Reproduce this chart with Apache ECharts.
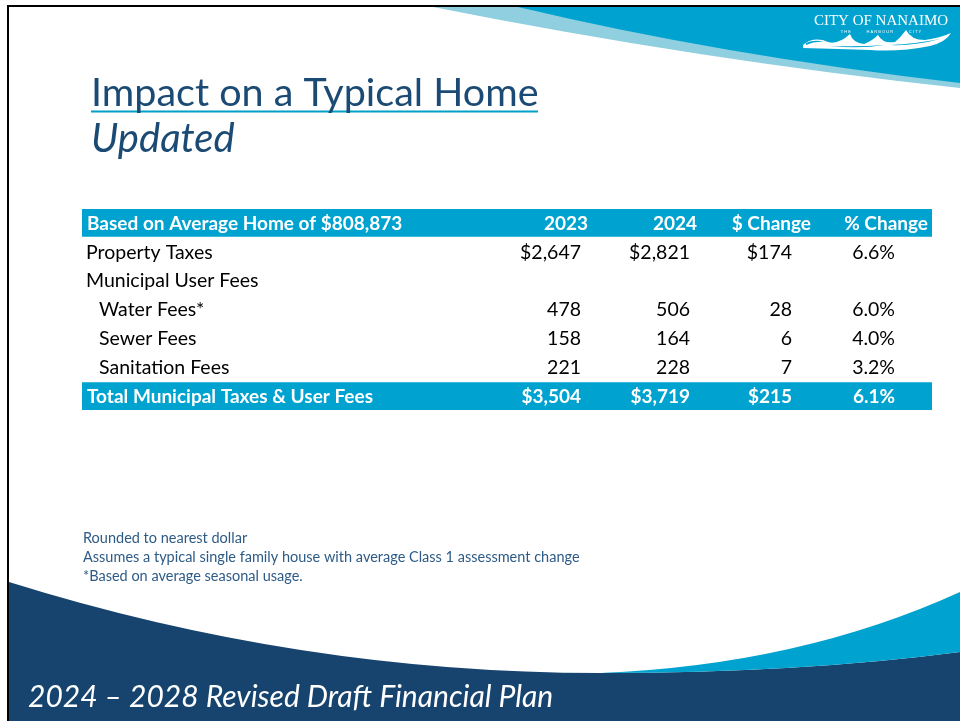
<!DOCTYPE html>
<html>
<head>
<meta charset="utf-8">
<script src="https://cdn.jsdelivr.net/npm/echarts@6/dist/echarts.min.js"></script>
<style>
  html, body { margin: 0; padding: 0; background: #fff; }
  #chart { width: 960px; height: 721px; }
</style>
</head>
<body>
<div id="chart"></div>
<script>
// table content
const headerLabel = 'Based on Average Home of $808,873';
const columnHeaders = ['2023', '2024', '$ Change', '% Change'];
const rowLabels = ['Property Taxes', 'Municipal User Fees', 'Water Fees*', 'Sewer Fees', 'Sanitation Fees'];
const values2023 = [2647, null, 478, 158, 221];
const values2024 = [2821, null, 506, 164, 228];
const changeDollar = [174, null, 28, 6, 7];
const changePct = [6.6, null, 6.0, 4.0, 3.2];
const totalLabel = 'Total Municipal Taxes & User Fees';
const totalValues = [3504, 3719, 215, 6.1];

const titleText = 'Impact on a Typical Home';
const subtitleText = 'Updated';
const footnotes = [
  'Rounded to nearest dollar',
  'Assumes a typical single family house with average Class 1 assessment change',
  '*Based on average seasonal usage.'
];
const footerText = '2024 \u2013 2028 Revised Draft Financial Plan';

// formatting rules
const dollarRows = ['Property Taxes'];
const indentRows = ['Water Fees*', 'Sewer Fees', 'Sanitation Fees'];

const money = (v, sign) => v == null ? '' : (sign ? '$' : '') + v.toLocaleString('en-US');
const pct = (v) => v == null ? '' : v.toFixed(1) + '%';

// layout
const FONT = 'Lato, "Open Sans", sans-serif';
const headRight = [588, 697, 811, 928];
const bodyRight = [581, 690, 792, 895];
const cyan = '#00a3cf';
const navy = '#17446f';
const titleBlue = '#1b4a75';

const yCats = [headerLabel].concat(rowLabels, [totalLabel]);

const chart = echarts.init(document.getElementById('chart'));

const renderRow = (params, api) => {
  const row = api.value(0);
  const y = api.coord([0, row])[1];
  const h = api.size([0, 1])[1];
  const children = [];
  const isHead = row === 0;
  const isTotal = row === yCats.length - 1;
  const txt = (x, s, align, bold, color) => ({
    type: 'text',
    style: {
      x: api.coord([x, row])[0], y: y, text: s, align: align, verticalAlign: 'middle',
      font: bold ? 'bold 19px ' + FONT : '19.5px ' + FONT, fill: color
    }
  });
  if (isHead || isTotal) {
    const x0 = api.coord([82, row])[0];
    const x1 = api.coord([932, row])[0];
    children.push({
      type: 'rect',
      shape: { x: x0, y: y - h / 2, width: x1 - x0, height: h - 1 },
      style: { fill: cyan }
    });
  }
  if (isHead) {
    children.push(txt(87, headerLabel, 'left', true, '#fff'));
    columnHeaders.forEach((c, i) => children.push(txt(headRight[i], c, 'right', true, '#fff')));
  } else if (isTotal) {
    children.push(txt(87, totalLabel, 'left', true, '#fff'));
    children.push(txt(bodyRight[0], money(totalValues[0], true), 'right', true, '#fff'));
    children.push(txt(bodyRight[1], money(totalValues[1], true), 'right', true, '#fff'));
    children.push(txt(bodyRight[2], money(totalValues[2], true), 'right', true, '#fff'));
    children.push(txt(bodyRight[3], pct(totalValues[3]), 'right', true, '#fff'));
  } else {
    const i = row - 1;
    const label = rowLabels[i];
    const sign = dollarRows.includes(label);
    children.push(txt(indentRows.includes(label) ? 99 : 86, label, 'left', false, '#000'));
    children.push(txt(bodyRight[0], money(values2023[i], sign), 'right', false, '#000'));
    children.push(txt(bodyRight[1], money(values2024[i], sign), 'right', false, '#000'));
    children.push(txt(bodyRight[2], money(changeDollar[i], sign), 'right', false, '#000'));
    children.push(txt(bodyRight[3], pct(changePct[i]), 'right', false, '#000'));
  }
  return { type: 'group', children: children };
};

// slide background shapes
const fillPath = (d, color) => ({ type: 'path', shape: { pathData: d }, style: { fill: color } });
const renderDecor = () => ({
  type: 'group',
  children: [
    fillPath('M433 7 Q700 60 960 88 L960 7 Z', '#8fcfe0'),
    fillPath('M518 7 Q720 55 960 83 L960 7 Z', cyan),
    // logo waves
    fillPath('M803 45 Q814 36 828 42 Q838 45 850 34 Q853 43 864 44 Q872 41 878 35 Q883 44 895 42 ' +
      'Q901 37 906 30 Q911 40 925 40 Q940 38 951 33 Q946 42 930 46 Q900 52 870 50 Q840 49 803 48 Z', '#fff'),
    fillPath('M806 43 Q815 39 824 42 Q815 41 806 45 Z', cyan),
    fillPath('M830 46 Q860 49 885 45 Q860 47 830 46 Z', cyan),
    fillPath('M890 45 Q915 46 940 39 Q915 44 890 45 Z', cyan),
    fillPath('M9 582 Q300 673 600 673 Q800 673 960 652 L960 721 L9 721 Z', navy),
    fillPath('M600 673 Q800 665 960 592 L960 652 Q800 673 600 673 Z', cyan),
    { type: 'rect', shape: { x: 7, y: 5, width: 953, height: 2 }, style: { fill: '#000' } },
    { type: 'rect', shape: { x: 7, y: 5, width: 2, height: 716 }, style: { fill: '#000' } },
    { type: 'rect', shape: { x: 91, y: 110.5, width: 447, height: 2 }, style: { fill: '#00a0c8' } }
  ]
});

const option = {
  backgroundColor: '#fff',
  animation: false,
  grid: { left: 0, right: 0, top: 209, bottom: 310 },
  xAxis: { type: 'value', min: 0, max: 960, show: false },
  yAxis: { type: 'category', data: yCats, inverse: true, show: false },
  series: [
    {
      type: 'custom',
      coordinateSystem: 'none',
      renderItem: renderDecor,
      data: [[0]],
      silent: true,
      z: 1
    },
    {
      type: 'custom',
      renderItem: renderRow,
      data: yCats.map((c, i) => [i]),
      encode: { y: 0 },
      silent: true,
      z: 2
    }
  ],
  graphic: [
    { type: 'text', z: 10, style: { x: 881, y: 21, text: 'CITY OF NANAIMO', align: 'center', verticalAlign: 'middle',
      font: '15px "Liberation Serif", serif', fill: '#fff' } },
    { type: 'text', z: 10, style: { x: 881, y: 31.5, text: 'T H E              H A R B O U R              C I T Y', align: 'center', verticalAlign: 'middle',
      font: '4px sans-serif', fill: '#fff' } },
    { type: 'text', z: 10, style: { x: 91, y: 93, text: titleText, verticalAlign: 'middle', font: '39.5px ' + FONT, fill: titleBlue } },
    { type: 'text', z: 10, style: { x: 91, y: 139, text: subtitleText, verticalAlign: 'middle', font: 'italic 40px ' + FONT, fill: titleBlue } },
    { type: 'text', z: 10, style: { x: 83, y: 538, text: footnotes[0], verticalAlign: 'middle', font: '14.5px ' + FONT, fill: '#2d5b87' } },
    { type: 'text', z: 10, style: { x: 83, y: 557, text: footnotes[1], verticalAlign: 'middle', font: '14.5px ' + FONT, fill: '#2d5b87' } },
    { type: 'text', z: 10, style: { x: 83, y: 576, text: footnotes[2], verticalAlign: 'middle', font: '14.5px ' + FONT, fill: '#2d5b87' } },
    { type: 'text', z: 10, style: { x: 28, y: 697, text: footerText, verticalAlign: 'middle', font: 'italic 30px ' + FONT, fill: '#fff' } }
  ]
};

chart.setOption(option);
</script>
</body>
</html>
